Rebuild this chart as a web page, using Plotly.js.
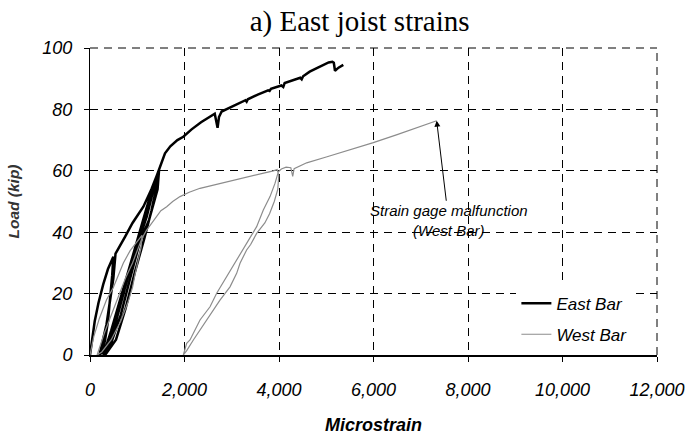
<!DOCTYPE html>
<html>
<head>
<meta charset="utf-8">
<script src="https://cdn.plot.ly/plotly-3.0.1.min.js"></script>
<style>html,body{margin:0;padding:0;background:#fff}#chart{width:689px;height:439px}</style>
</head>
<body>
<div id="chart"></div>
<script>
// Data (microstrain vs load in kip)
const eastStrain = [0, 40, 100, 180, 280, 380, 460, 494,
  470, 430, 380, 320, 260, 200,
  350, 494, 540, 741, 900, 1129, 1300, 1446,
  1410, 1300, 1150, 950, 750, 550, 320,
  500, 706, 917, 1199, 1411, 1460,
  1430, 1250, 1058, 850, 650, 450, 282,
  450, 600, 800, 988, 1200, 1380, 1470,
  1530, 1587, 1700, 1850, 1975, 2150, 2350, 2500, 2640, 2700, 2730, 2786,
  2950, 3150, 3290, 3315, 3340, 3550, 3770, 3800, 3830, 4050, 4090, 4120,
  4350, 4450, 4480, 4510, 4650, 4800, 4950, 5050, 5130, 5160, 5185, 5260, 5361];
const eastLoad = [0, 5, 11, 17, 23, 28, 31, 32,
  26, 18, 11, 5, 1, 0,
  10, 25, 33, 38.5, 43, 48.3, 54, 59.7,
  55, 47, 38, 27, 15, 5, 0,
  8, 20, 32, 45, 58, 60,
  54, 44, 37, 25, 13, 4, 0,
  8, 16, 27, 37, 48, 57, 61,
  63.5, 65.7, 68, 70, 71.1, 73.5, 75.8, 77.2, 78.6, 74, 77.5, 79.3,
  80.5, 82, 83, 82.5, 83.3, 84.8, 86.2, 86, 86.7, 87.8, 87.3, 88.6,
  89.8, 90.3, 89.8, 90.8, 92.3, 93.5, 94.5, 95.3, 95.5, 95.2, 92.6, 93.6, 94.5];

const westStrain = [0, 80, 200, 350, 494, 600, 706, 850, 1000, 1100,
  1080, 1000, 950, 900, 800, 650, 450, 250, 150,
  300, 450, 600, 750, 900, 1000, 1100, 1199, 1350, 1500, 1623, 1750, 1905,
  2100, 2328, 2600, 2963, 3300, 3600, 3880, 3960, 3995,
  3975, 3900, 3800, 3700, 3527, 3400, 3315, 3175, 3104, 2963, 2751, 2600, 2469, 2300, 2187, 2050, 1975,
  2046, 2116, 2328, 2540, 2681, 2892, 3104, 3315, 3527, 3668, 3810, 3915, 3986,
  4050, 4150, 4250, 4290, 4320, 4409, 4586, 5000, 5500, 5996, 6500, 7000, 7337];
const westLoad = [0, 6, 12, 18, 22, 26, 30, 34, 37, 39,
  35, 30, 26, 22, 17, 11, 5, 1, 0,
  7, 13, 19, 25, 30, 34, 38, 40.7, 44, 47, 48.3, 50, 51.6,
  53, 54.3, 55.3, 56.5, 57.8, 58.8, 60, 60.4, 58.5,
  54, 50, 46, 43, 39.6, 36, 34.2, 29.9, 26.6, 22.2, 17.9, 14.5, 11.4, 7.5, 4.9, 1.5, 0,
  3.8, 4.9, 11.4, 15.7, 20.1, 25.5, 30.9, 36.4, 41.8, 47.2, 51.6, 55.9, 59.7,
  60.6, 61.2, 61, 58.2, 60.7, 61.3, 62.6, 64.5, 66.8, 69.2, 71.8, 74.4, 76.3];

const xTicks = [0, 2000, 4000, 6000, 8000, 10000, 12000];
const xTickLabels = ["0", "2,000", "4,000", "6,000", "8,000", "10,000", "12,000"];
const yTicks = [0, 20, 40, 60, 80, 100];
const yTickLabels = ["0", "20", "40", "60", "80", "100"];
const seriesNames = ["East Bar", "West Bar"];

const sans = "Liberation Sans, Arial, sans-serif";
const tickFont = {family: sans, size: 18, color: "#000", style: "italic"};
const it = s => "<i>" + s + "</i>";

const traces = [
  {x: eastStrain, y: eastLoad, name: seriesNames[0], type: "scatter", mode: "lines",
   line: {color: "#000", width: 2.5}, legendgroup: "e"},
  {x: westStrain, y: westLoad, name: seriesNames[1], type: "scatter", mode: "lines",
   line: {color: "#8c8c8c", width: 1.2}, legendgroup: "w"}
];

const gridDash = "8px,6px";
const layout = {
  width: 689, height: 439,
  margin: {l: 90, r: 32, t: 48, b: 84},
  paper_bgcolor: "#fff", plot_bgcolor: "#fff",
  title: {text: "a) East joist strains", font: {family: "Liberation Serif, Times New Roman, serif", size: 29, color: "#000"},
          xref: "container", x: 0.522, xanchor: "center", yref: "container", y: 0.952, yanchor: "middle"},
  xaxis: {range: [0, 12000], tickvals: xTicks, ticktext: xTickLabels.map(it), showgrid: true,
          gridcolor: "#000", gridwidth: 1, griddash: gridDash, zeroline: false,
          showline: true, linecolor: "#000", linewidth: 2, ticks: "outside", ticklen: 5, tickcolor: "#000",
          tickfont: tickFont, ticklabelstandoff: 12,
          title: {text: "<b><i>Microstrain</i></b>", font: {family: sans, size: 18, color: "#000"}, standoff: 20}},
  yaxis: {range: [0, 100], tickvals: yTicks, ticktext: yTickLabels.map(it), showgrid: true,
          gridcolor: "#000", gridwidth: 1, griddash: gridDash, zeroline: false,
          showline: true, linecolor: "#000", linewidth: 1, ticks: "outside", ticklen: 5, tickcolor: "#000",
          tickfont: tickFont, ticklabelstandoff: 8,
          title: {text: "<b><i>Load (kip)</i></b>", font: {family: sans, size: 15.5, color: "#333"}, standoff: 18}},
  showlegend: true,
  legend: {x: 0.752, y: 0.226, xanchor: "left", yanchor: "top", bgcolor: "#fff", borderwidth: 0,
           font: {family: sans, size: 17, color: "#000", style: "italic"},
           traceorder: "grouped", tracegroupgap: 6},
  shapes: [
    {type: "line", xref: "paper", yref: "paper", x0: 0, x1: 1, y0: 1, y1: 1, line: {color: "#000", width: 1, dash: gridDash}, layer: "below"},
    {type: "line", xref: "paper", yref: "paper", x0: 1, x1: 1, y0: 0, y1: 1, line: {color: "#000", width: 1, dash: gridDash}, layer: "below"}
  ],
  annotations: [{
    x: westStrain[westStrain.length - 1], y: westLoad[westLoad.length - 1], xref: "x", yref: "y",
    text: "<i>Strain gage malfunction<br>(West Bar)</i>", showarrow: true, arrowhead: 2, arrowsize: 1.2, arrowwidth: 1,
    arrowcolor: "#000", ax: 12, ay: 100, standoff: 0,
    font: {family: sans, size: 15, color: "#000"}
  }]
};

Plotly.newPlot("chart", traces, layout, {displayModeBar: false, staticPlot: true});
</script>
</body>
</html>
